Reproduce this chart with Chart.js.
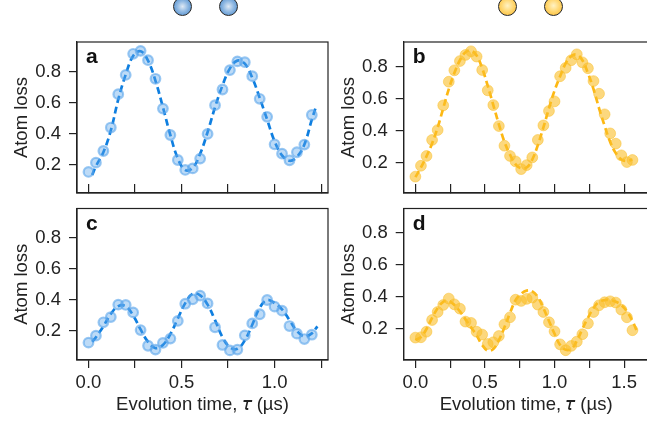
<!DOCTYPE html>
<html>
<head>
<meta charset="utf-8">
<script src="https://cdn.jsdelivr.net/npm/chart.js@4"></script>
<style>
html, body { margin: 0; padding: 0; background: #fff; width: 647px; height: 423px; overflow: hidden; }
canvas { position: absolute; }
.atom { position: absolute; top: -3px; width: 17px; height: 17px; border: 1.5px solid #262626; border-radius: 50%; }
.blue { background: radial-gradient(circle at 50% 50%, #dfe9f4 0%, #8fb8e2 45%, #3f82c8 100%); }
.yellow { background: radial-gradient(circle at 50% 45%, #fff2c4 0%, #ffd66e 50%, #f7b52c 100%); }
</style>
</head>
<body>
<div class="atom blue" style="left:173px"></div>
<div class="atom blue" style="left:219px"></div>
<div class="atom yellow" style="left:498px"></div>
<div class="atom yellow" style="left:544px"></div>
<canvas id="chart-a" width="335" height="170" style="left:0;top:32px"></canvas>
<canvas id="chart-b" width="325" height="170" style="left:330px;top:32px"></canvas>
<canvas id="chart-c" width="335" height="223" style="left:0;top:200px"></canvas>
<canvas id="chart-d" width="325" height="223" style="left:330px;top:200px"></canvas>
<script>
var yTicks = [0.2, 0.4, 0.6, 0.8];
var xTicksLeft = [0, 0.25, 0.5, 0.75, 1, 1.25];
var xTicksRight = [0, 0.25, 0.5, 0.75, 1, 1.25, 1.5];

var timeLeft = [0, 0.04, 0.08, 0.12, 0.16, 0.2, 0.24, 0.28, 0.32, 0.36, 0.4, 0.44, 0.48, 0.52, 0.56, 0.6,
	0.64, 0.68, 0.72, 0.76, 0.8, 0.84, 0.88, 0.92, 0.96, 1, 1.04, 1.08, 1.12, 1.16, 1.2];
var timeRight = [0, 0.04, 0.08, 0.12, 0.16, 0.2, 0.24, 0.28, 0.32, 0.36, 0.4, 0.44, 0.48, 0.52, 0.56, 0.6,
	0.64, 0.68, 0.72, 0.76, 0.8, 0.84, 0.88, 0.92, 0.96, 1, 1.04, 1.08, 1.12, 1.16, 1.2, 1.24, 1.28, 1.32,
	1.36, 1.4, 1.44, 1.48, 1.52, 1.56];

var lossA = [0.153, 0.213, 0.288, 0.439, 0.654, 0.778, 0.914, 0.933, 0.873, 0.753, 0.561, 0.391, 0.23, 0.166, 0.176, 0.239,
	0.398, 0.583, 0.684, 0.809, 0.865, 0.86, 0.77, 0.624, 0.508, 0.331, 0.271, 0.228, 0.28, 0.329, 0.52];
var lossB = [0.113, 0.181, 0.242, 0.342, 0.404, 0.558, 0.706, 0.777, 0.835, 0.873, 0.896, 0.863, 0.779, 0.652, 0.56, 0.429,
	0.306, 0.242, 0.208, 0.16, 0.185, 0.233, 0.342, 0.433, 0.523, 0.583, 0.74, 0.792, 0.84, 0.877, 0.827, 0.79, 0.71, 0.631,
	0.502, 0.383, 0.319, 0.246, 0.204, 0.217];
var lossC = [0.125, 0.17, 0.256, 0.29, 0.37, 0.368, 0.32, 0.206, 0.105, 0.08, 0.123, 0.151, 0.265, 0.376, 0.404, 0.428,
	0.378, 0.224, 0.11, 0.075, 0.08, 0.172, 0.249, 0.308, 0.4, 0.357, 0.331, 0.232, 0.183, 0.148, 0.176];
var lossD = [0.146, 0.148, 0.183, 0.256, 0.306, 0.35, 0.39, 0.354, 0.327, 0.246, 0.238, 0.183, 0.165, 0.106, 0.117, 0.156,
	0.229, 0.273, 0.383, 0.375, 0.388, 0.396, 0.352, 0.306, 0.242, 0.185, 0.104, 0.067, 0.094, 0.121, 0.167, 0.235, 0.306,
	0.348, 0.367, 0.373, 0.365, 0.321, 0.273, 0.192];

// dashed curves
var fitTimeA = [0.02, 0.04, 0.08, 0.12, 0.16, 0.2, 0.24, 0.28, 0.32, 0.36, 0.4, 0.44, 0.48, 0.52, 0.56, 0.6, 0.64, 0.68,
	0.72, 0.76, 0.8, 0.84, 0.88, 0.92, 0.96, 1, 1.04, 1.08, 1.12, 1.16, 1.2, 1.22];
var fitA = [0.133, 0.19, 0.28, 0.42, 0.62, 0.78, 0.9, 0.93, 0.87, 0.74, 0.57, 0.39, 0.24, 0.165, 0.18, 0.27, 0.41, 0.57,
	0.71, 0.82, 0.87, 0.85, 0.76, 0.63, 0.49, 0.35, 0.26, 0.225, 0.25, 0.33, 0.49, 0.565];
var fitB = [0.11, 0.17, 0.24, 0.32, 0.42, 0.54, 0.66, 0.76, 0.84, 0.89, 0.9, 0.87, 0.79, 0.68, 0.56, 0.44, 0.33, 0.25,
	0.19, 0.165, 0.17, 0.22, 0.31, 0.42, 0.54, 0.65, 0.74, 0.82, 0.865, 0.875, 0.84, 0.76, 0.66, 0.54, 0.43, 0.33, 0.26,
	0.22, 0.21, 0.22];
var fitTimeC = [0.02, 0.04, 0.08, 0.12, 0.16, 0.2, 0.24, 0.28, 0.32, 0.36, 0.4, 0.44, 0.48, 0.52, 0.56, 0.6, 0.64, 0.68,
	0.72, 0.76, 0.8, 0.84, 0.88, 0.92, 0.96, 1, 1.04, 1.08, 1.12, 1.16, 1.2, 1.23];
var fitC = [0.13, 0.16, 0.23, 0.31, 0.36, 0.36, 0.3, 0.21, 0.13, 0.09, 0.11, 0.18, 0.28, 0.38, 0.44, 0.43, 0.37, 0.27,
	0.16, 0.095, 0.085, 0.14, 0.24, 0.35, 0.4, 0.38, 0.34, 0.27, 0.2, 0.165, 0.185, 0.23];
var fitTimeD = [0, 0.04, 0.08, 0.12, 0.16, 0.2, 0.24, 0.28, 0.32, 0.36, 0.4, 0.44, 0.48, 0.52, 0.56, 0.6, 0.64, 0.68,
	0.72, 0.76, 0.8, 0.84, 0.88, 0.92, 0.96, 1, 1.04, 1.08, 1.12, 1.16, 1.2, 1.24, 1.28, 1.32, 1.36, 1.4, 1.44, 1.48,
	1.52, 1.56, 1.59];
var fitD = [0.13, 0.15, 0.2, 0.27, 0.33, 0.37, 0.375, 0.35, 0.31, 0.26, 0.21, 0.16, 0.1, 0.065, 0.075, 0.13, 0.21, 0.3,
	0.38, 0.42, 0.44, 0.435, 0.4, 0.33, 0.25, 0.17, 0.1, 0.07, 0.075, 0.125, 0.2, 0.27, 0.33, 0.37, 0.38, 0.38, 0.37,
	0.35, 0.31, 0.25, 0.19];

var inkColor = "#222222";
var tickFont = { family: "'Liberation Sans', Arial, sans-serif", size: 18.5 };

var blue = { line: "#0f7fe0", fill: "rgba(90,165,235,0.4)", edge: "rgba(90,165,235,0.6)", radius: 4.8, width: 2.2 };
var yellow = { line: "#fdb813", fill: "rgba(250,190,40,0.6)", edge: "rgba(250,190,40,0.5)", radius: 5.4, width: 1 };

var toPoints = function (xs, ys) {
	return xs.map(function (x, i) { return { x: x, y: ys[i] }; });
};

// top and right spines plus the panel letter
var panelFrame = {
	id: "panelFrame",
	afterDraw: function (chart, args, opts) {
		var a = chart.chartArea, ctx = chart.ctx;
		ctx.save();
		ctx.strokeStyle = inkColor;
		ctx.lineWidth = 1.2;
		ctx.strokeRect(a.left, a.top, a.right - a.left, a.bottom - a.top);
		ctx.fillStyle = "#111";
		ctx.font = "bold 21px 'Liberation Sans', Arial, sans-serif";
		ctx.fillText(opts.letter, a.left + 9, a.top + 21);
		ctx.restore();
	}
};

// labels must not push the plot area around
var noPadding = function (scale) {
	scale.paddingTop = 0;
	scale.paddingBottom = 0;
	scale.paddingLeft = 0;
	scale.paddingRight = 0;
};

function makePanel(id, p) {
	var showX = p.bottomRow;
	new Chart(document.getElementById(id), {
		type: "scatter",
		data: {
			datasets: [{
				data: toPoints(p.time, p.loss),
				backgroundColor: p.style.fill,
				borderColor: p.style.edge,
				borderWidth: p.style.width,
				pointRadius: p.style.radius,
				order: 1
			}, {
				data: toPoints(p.fitTime, p.fit),
				showLine: true,
				borderColor: p.style.line,
				borderWidth: 2.7,
				borderDash: [7, 4],
				tension: 0.4,
				pointRadius: 0,
				order: 2
			}]
		},
		plugins: [panelFrame],
		options: {
			responsive: false,
			animation: false,
			layout: { padding: { top: p.padTop, right: p.padRight, left: 0, bottom: 0 } },
			plugins: {
				legend: { display: false },
				tooltip: { enabled: false },
				panelFrame: { letter: p.letter }
			},
			scales: {
				x: {
					type: "linear",
					min: p.xMin,
					max: p.xMax,
					afterBuildTicks: function (scale) {
						scale.ticks = p.xTicks.map(function (v) { return { value: v }; });
					},
					afterFit: function (scale) {
						scale.height = p.axisHeight;
						noPadding(scale);
					},
					border: { color: inkColor, width: 1.2 },
					grid: { drawOnChartArea: false, color: inkColor, lineWidth: 1.2, tickLength: showX ? 8 : -9 },
					ticks: {
						display: showX,
						autoSkip: false,
						maxRotation: 0,
						padding: 4,
						color: inkColor,
						font: tickFont,
						callback: function (v) { return v * 2 === Math.round(v * 2) ? v.toFixed(1) : ""; }
					},
					title: {
						display: showX,
						text: "Evolution time, 𝜏 (µs)",
						color: inkColor,
						font: tickFont,
						padding: { top: 0, bottom: 7 }
					}
				},
				y: {
					min: p.yMin,
					max: p.yMax,
					afterBuildTicks: function (scale) {
						scale.ticks = yTicks.map(function (v) { return { value: v }; });
					},
					afterFit: function (scale) {
						scale.width = p.axisWidth;
						noPadding(scale);
					},
					border: { color: inkColor, width: 1.2 },
					grid: { drawOnChartArea: false, color: inkColor, lineWidth: 1.2, tickLength: 8 },
					ticks: {
						padding: 8,
						color: inkColor,
						font: tickFont,
						callback: function (v) { return v.toFixed(1); }
					},
					title: {
						display: true,
						text: "Atom loss",
						color: inkColor,
						font: tickFont,
						padding: { top: p.titlePad, bottom: 0 }
					}
				}
			}
		}
	});
}

makePanel("chart-a", { letter: "a", style: blue, time: timeLeft, loss: lossA, fitTime: fitTimeA, fit: fitA,
	xTicks: xTicksLeft, xMin: -0.0617, xMax: 1.287, yMin: 0.0174, yMax: 0.99, bottomRow: false,
	padTop: 10, padRight: 6.5, axisWidth: 77, axisHeight: 9, titlePad: 11 });
makePanel("chart-b", { letter: "b", style: yellow, time: timeRight, loss: lossB, fitTime: timeRight, fit: fitB,
	xTicks: xTicksRight, xMin: -0.084, xMax: 1.676, yMin: 0.0106, yMax: 0.954, bottomRow: false,
	padTop: 10, padRight: 0, axisWidth: 73.7, axisHeight: 9, titlePad: 8 });
makePanel("chart-c", { letter: "c", style: blue, time: timeLeft, loss: lossC, fitTime: fitTimeC, fit: fitC,
	xTicks: xTicksLeft, xMin: -0.0617, xMax: 1.287, yMin: 0.013, yMax: 0.99, bottomRow: true,
	padTop: 8.5, padRight: 6.5, axisWidth: 77, axisHeight: 63, titlePad: 11 });
makePanel("chart-d", { letter: "d", style: yellow, time: timeRight, loss: lossD, fitTime: fitTimeD, fit: fitD,
	xTicks: xTicksRight, xMin: -0.084, xMax: 1.676, yMin: 0.006, yMax: 0.953, bottomRow: true,
	padTop: 8.5, padRight: 0, axisWidth: 73.7, axisHeight: 63, titlePad: 8 });
</script>
</body>
</html>
